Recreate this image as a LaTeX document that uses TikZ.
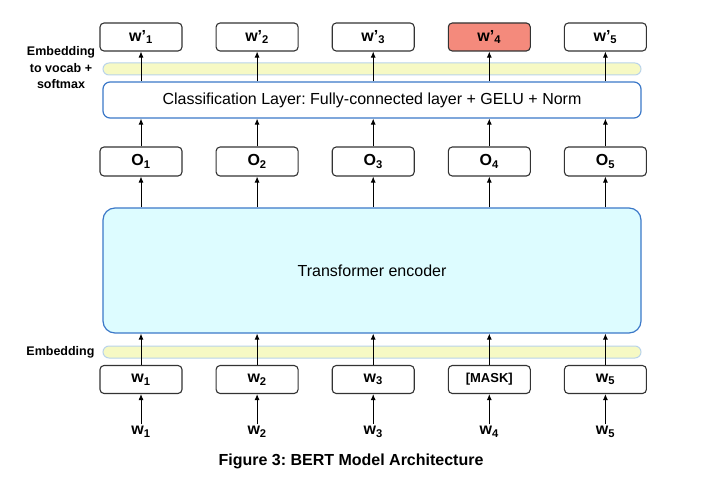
\documentclass[tikz,border=0pt]{standalone}
\usepackage{fontspec}
\setmainfont{Liberation Sans}
\usetikzlibrary{arrows.meta,positioning}
\frenchspacing

\definecolor{layerblue}{HTML}{3B78C8}
\definecolor{encfill}{HTML}{DDFCFF}
\definecolor{barfill}{HTML}{F6F9C4}
\definecolor{barline}{HTML}{B9D3EA}
\definecolor{maskred}{HTML}{F48A7C}

\begin{document}
\begin{tikzpicture}[
    x=1pt, y=-1pt,
    node distance=33pt,
    box/.style={rectangle, draw=black!80, line width=1.1pt, rounded corners=4pt, fill=white,
        minimum width=82pt, minimum height=28pt, inner sep=1pt,
        font=\fontsize{16}{18}\selectfont\bfseries},
    layer/.style={rectangle, draw=layerblue, line width=1.2pt, minimum width=538pt, fill=white},
    bar/.style={rectangle, draw=barline, line width=1pt, fill=barfill, rounded corners=6pt,
        minimum width=538pt, minimum height=12pt, inner sep=0pt},
    tok/.style={font=\fontsize{16}{18}\selectfont\bfseries, inner sep=2pt},
    side/.style={font=\fontsize{12.5}{16.5}\selectfont\bfseries, align=center},
    arrow/.style={-{Latex[length=6pt,width=5pt]}, line width=0.9pt}
]
    \useasboundingbox (0,0) rectangle (708,476);

    % Input tokens and embedded inputs
    \node[box] (in1) at (141,379.5) {w\textsubscript{1}};
    \node[box, right=of in1] (in2) {w\textsubscript{2}};
    \node[box, right=of in2] (in3) {w\textsubscript{3}};
    \node[box, right=of in3, font=\fontsize{13}{15}\selectfont\bfseries] (in4) {[MASK]};
    \node[box, right=of in4] (in5) {w\textsubscript{5}};

    \node[tok] (tok1) at (141,432) {w\textsubscript{1}};
    \node[tok] (tok2) at (in2 |- tok1) {w\textsubscript{2}};
    \node[tok] (tok3) at (in3 |- tok1) {w\textsubscript{3}};
    \node[tok] (tok4) at (in4 |- tok1) {w\textsubscript{4}};
    \node[tok] (tok5) at (in5 |- tok1) {w\textsubscript{5}};

    \node[bar] (emb) at (372,352) {};
    \node[side, anchor=east] (emblabel) at (98,352) {Embedding};

    % Encoder
    \node[layer, fill=encfill, rounded corners=12pt, minimum height=125pt,
        font=\fontsize{16}{18}\selectfont] (enc) at (372,270.5) {Transformer encoder};

    % Outputs
    \node[box, minimum height=29pt] (o1) at (141,161.5) {O\textsubscript{1}};
    \node[box, minimum height=29pt, right=of o1] (o2) {O\textsubscript{2}};
    \node[box, minimum height=29pt, right=of o2] (o3) {O\textsubscript{3}};
    \node[box, minimum height=29pt, right=of o3] (o4) {O\textsubscript{4}};
    \node[box, minimum height=29pt, right=of o4] (o5) {O\textsubscript{5}};

    \node[layer, rounded corners=7pt, minimum height=36pt,
        font=\fontsize{16}{18}\selectfont] (cls) at (372,100)
        {Classification Layer: Fully-connected layer + GELU + Norm};

    \node[bar] (voc) at (372,69) {};
    \node[side] (voclabel) at (61,68) {Embedding\\to vocab +\\softmax};

    \node[box] (p1) at (141,37) {w’\textsubscript{1}};
    \node[box, right=of p1] (p2) {w’\textsubscript{2}};
    \node[box, right=of p2] (p3) {w’\textsubscript{3}};
    \node[box, right=of p3, fill=maskred] (p4) {w’\textsubscript{4}};
    \node[box, right=of p4] (p5) {w’\textsubscript{5}};

    % Arrows
    \draw[arrow] (tok1) -- (in1);
    \draw[arrow] (tok2) -- (in2);
    \draw[arrow] (tok3) -- (in3);
    \draw[arrow] (tok4) -- (in4);
    \draw[arrow] (tok5) -- (in5);

    \draw[arrow] (in1) -- (in1 |- enc.south);
    \draw[arrow] (in2) -- (in2 |- enc.south);
    \draw[arrow] (in3) -- (in3 |- enc.south);
    \draw[arrow] (in4) -- (in4 |- enc.south);
    \draw[arrow] (in5) -- (in5 |- enc.south);

    \draw[arrow] (o1 |- enc.north) -- (o1);
    \draw[arrow] (o2 |- enc.north) -- (o2);
    \draw[arrow] (o3 |- enc.north) -- (o3);
    \draw[arrow] (o4 |- enc.north) -- (o4);
    \draw[arrow] (o5 |- enc.north) -- (o5);

    \draw[arrow] (o1) -- (o1 |- cls.south);
    \draw[arrow] (o2) -- (o2 |- cls.south);
    \draw[arrow] (o3) -- (o3 |- cls.south);
    \draw[arrow] (o4) -- (o4 |- cls.south);
    \draw[arrow] (o5) -- (o5 |- cls.south);

    \draw[arrow] (p1 |- cls.north) -- (p1);
    \draw[arrow] (p2 |- cls.north) -- (p2);
    \draw[arrow] (p3 |- cls.north) -- (p3);
    \draw[arrow] (p4 |- cls.north) -- (p4);
    \draw[arrow] (p5 |- cls.north) -- (p5);

    % Caption
    \node[font=\fontsize{16}{18}\selectfont\bfseries] (caption) at (351,461)
        {Figure 3: BERT Model Architecture};
\end{tikzpicture}
\end{document}
